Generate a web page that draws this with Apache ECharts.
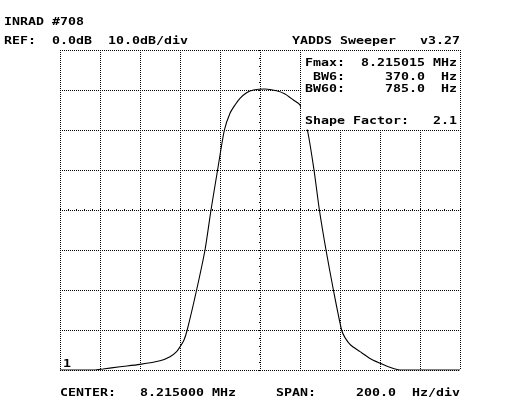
<!DOCTYPE html>
<html>
<head>
<meta charset="utf-8">
<script src="https://cdn.jsdelivr.net/npm/echarts@6/dist/echarts.min.js"></script>
<style>
  html, body { margin: 0; padding: 0; background: #fff; }
  #main { width: 510px; height: 420px; }
</style>
</head>
<body>
<div id="main"></div>
<script>
// frequency offset from center (Hz) and level (dB)
var freqHz = [-1000, -830, -785, -700, -600, -500, -450, -417, -400, -380, -364, -317, -275, -245, -212, -178,
              -150, -125, -100, -67, -33, 25, 83, 125, 167, 200, 237, 270, 297, 330, 367, 408, 425, 453,
              500, 550, 600, 642, 700, 1000];
var levelDb = [-80, -80, -79.75, -79.2, -78.6, -77.7, -76.7, -75.4, -74.2, -72.5, -70, -60, -50, -40, -30, -20,
               -15.8, -13.75, -12.1, -10.7, -10, -9.75, -10.2, -11, -12.5, -13.75, -20, -30, -40, -50, -60, -70, -71.9, -73.75,
               -75.4, -77.1, -78.3, -79.2, -80, -80];

// text on the screen
var titleText = 'INRAD #708';
var refText = 'REF:  0.0dB  10.0dB/div';
var versionText = 'YADDS Sweeper   v3.27';
var panelLines = ['Fmax:  8.215015 MHz', ' BW6:     370.0  Hz', 'BW60:     785.0  Hz', 'Shape Factor:   2.1'];
var panelY = [63.5, 77, 89, 121];
var footerText = 'CENTER:   8.215000 MHz     SPAN:     200.0  Hz/div';
var traceLabel = '1';

var chart = echarts.init(document.getElementById('main'));

var FONT = 'bold 10.5px "DejaVu Sans Mono"';
var SX = 8 / (0.602 * 10.5);

function txt(s, x, y) {
    return {
        type: 'text', x: x, y: y, scaleX: SX, z: 101,
        style: {text: s, font: FONT, fill: '#000', align: 'left', verticalAlign: 'middle'}
    };
}

var gridLine = {show: true, lineStyle: {color: '#000', type: 'dotted', width: 1}};

var pts = [];
for (var i = 0; i < freqHz.length; i++) pts.push([freqHz[i], levelDb[i]]);

var graphics = [
    {type: 'rect', z: 100, shape: {x: 301, y: 51, width: 158, height: 78.5}, style: {fill: '#fff'}},
    txt(titleText, 4, 22),
    txt(refText, 4, 41.5),
    txt(versionText, 292, 41.5),
    txt(footerText, 60, 393),
    txt(traceLabel, 63, 364.5)
];
for (var j = 0; j < panelLines.length; j++) graphics.push(txt(panelLines[j], 305, panelY[j]));

chart.setOption({
    backgroundColor: '#fff',
    animation: false,
    grid: {left: 60, top: 50, width: 400, height: 320},
    xAxis: [
        {type: 'value', min: -1000, max: 1000, interval: 200,
            axisLine: {show: false, onZero: false}, axisTick: {show: false}, axisLabel: {show: false}, splitLine: gridLine},
        // little ticks along the horizontal center line
        {type: 'value', position: 'bottom', offset: -159, min: -1000, max: 1000, interval: 40,
            axisLine: {show: false, onZero: false}, axisTick: {show: true, inside: true, length: 2, lineStyle: {color: '#000'}},
            axisLabel: {show: false}, splitLine: {show: false}}
    ],
    yAxis: [
        {type: 'value', min: -80, max: 0, interval: 10,
            axisLine: {show: false, onZero: false}, axisTick: {show: false}, axisLabel: {show: false}, splitLine: gridLine},
        // little ticks along the vertical center line
        {type: 'value', position: 'left', offset: -199, min: -80, max: 0, interval: 2,
            axisLine: {show: false, onZero: false}, axisTick: {show: true, inside: true, length: 2, lineStyle: {color: '#000'}},
            axisLabel: {show: false}, splitLine: {show: false}}
    ],
    series: [{
        type: 'line',
        xAxisIndex: 0, yAxisIndex: 0,
        data: pts,
        showSymbol: false,
        smooth: 0.25,
        lineStyle: {color: '#000', width: 1.1},
        z: 5
    }],
    graphic: graphics
});
</script>
</body>
</html>
